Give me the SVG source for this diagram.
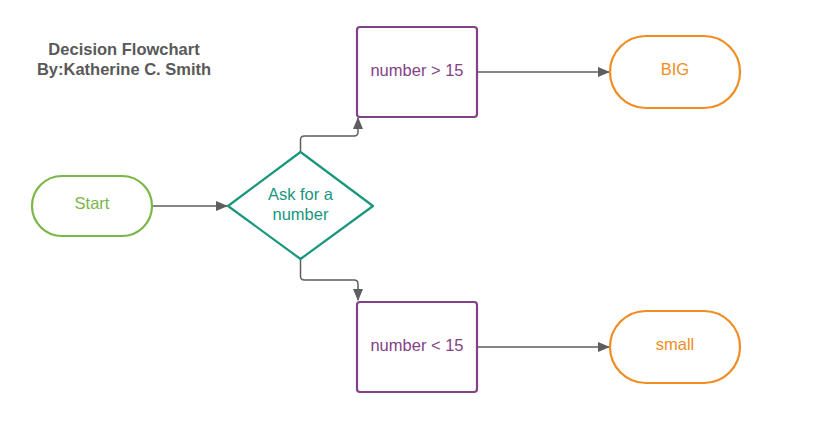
<svg xmlns="http://www.w3.org/2000/svg" width="817" height="425" viewBox="0 0 817 425">
<style>
.t{font-family:"Liberation Sans",Arial,sans-serif;font-size:16.5px;text-anchor:middle}
.title{font-family:"Liberation Sans",Arial,sans-serif;font-size:16.5px;font-weight:bold;fill:#595959;text-anchor:middle}
.c{fill:none;stroke:#5e5e5e;stroke-width:1.5}
.box{fill:#fff;stroke:#834187;stroke-width:2.2}
.term{fill:#fff;stroke:#ef8d22;stroke-width:2.2}
</style>
<defs>
<marker id="a" markerWidth="12" markerHeight="10" refX="11" refY="5" orient="auto" markerUnits="userSpaceOnUse">
<path d="M0,0 L12,5 L0,10 Z" fill="#5e5e5e"/>
</marker>
</defs>
<rect width="817" height="425" fill="#fff"/>
<g id="title">
<text class="title" x="124" y="55">Decision Flowchart</text>
<text class="title" x="124" y="75">By:Katherine C. Smith</text>
</g>
<g id="connectors">
<path class="c" d="M152,206 H227" marker-end="url(#a)"/>
<path class="c" d="M300.5,152 V140 Q300.5,136 304.5,136 H354 Q358,136 358,132 V118" marker-end="url(#a)"/>
<path class="c" d="M300.5,259 V276 Q300.5,280 304.5,280 H354 Q358,280 358,284 V300" marker-end="url(#a)"/>
<path class="c" d="M477,72 H609" marker-end="url(#a)"/>
<path class="c" d="M477,347 H609" marker-end="url(#a)"/>
</g>
<g id="start">
<rect x="32" y="176" width="120" height="60" rx="30" fill="#fff" stroke="#7ab648" stroke-width="2.2"/>
<text class="t" x="92" y="209" fill="#7ab648">Start</text>
</g>
<g id="ask">
<path d="M300.5,152 L373,206 L300.5,259 L228,206 Z" fill="#fff" stroke="#19967d" stroke-width="2.2" stroke-linejoin="round"/>
<text class="t" x="300.5" y="200" fill="#19967d">Ask for a</text>
<text class="t" x="300.5" y="220" fill="#19967d">number</text>
</g>
<g id="gt">
<rect class="box" x="357" y="27" width="120" height="90" rx="3"/>
<text class="t" x="417" y="76" fill="#834187">number &gt; 15</text>
</g>
<g id="lt">
<rect class="box" x="357" y="302" width="120" height="90" rx="3"/>
<text class="t" x="417" y="351" fill="#834187">number &lt; 15</text>
</g>
<g id="big">
<rect class="term" x="610" y="36" width="130" height="72" rx="36"/>
<text class="t" x="675" y="75" fill="#ef8d22">BIG</text>
</g>
<g id="small">
<rect class="term" x="610" y="311" width="130" height="72" rx="36"/>
<text class="t" x="675" y="350" fill="#ef8d22">small</text>
</g>
</svg>
